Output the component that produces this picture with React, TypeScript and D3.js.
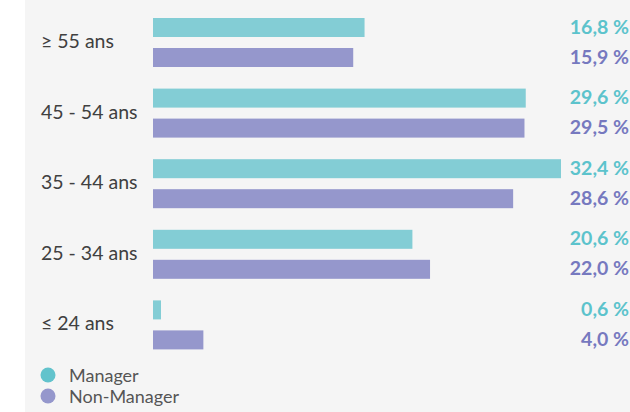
import React from "react";
import * as d3 from "d3";

const categories = ["≥ 55 ans", "45 - 54 ans", "35 - 44 ans", "25 - 34 ans", "≤ 24 ans"];
const managerValues = [16.8, 29.6, 32.4, 20.6, 0.6];
const nonManagerValues = [15.9, 29.5, 28.6, 22.0, 4.0];
const seriesNames = ["Manager", "Non-Manager"];

const W = 630;
const H = 412;
const barColors = ["#83cdd5", "#9597cc"];
const labelColors = ["#5cc3cc", "#7679bf"];
const markerColors = ["#62c3cc", "#9597cc"];
const fontFamily = "Lato, 'Open Sans', sans-serif";

const fmt = (v: number) => d3.format(".1f")(v).replace(".", ",") + " %";

export default function App() {
  const x = d3.scaleLinear().domain([0, 32.4]).range([153, 561]);
  const y = d3.scaleBand().domain(categories).range([13, 366]).paddingInner(0).paddingOuter(0);
  const bh = 19;
  const series = [managerValues, nonManagerValues];

  return (
    <svg
      width={W}
      height={H}
      style={{ position: "absolute", left: 0, top: 0, display: "block" }}
      fontFamily={fontFamily}
    >
      <rect x={0} y={0} width={W} height={H} fill="#ffffff" />
      <rect x={25} y={0} width={W - 25} height={H} fill="#f5f5f5" />
      {categories.map((c, i) => {
        const g0 = (y(c) as number) + 5;
        return (
          <g key={c}>
            <text x={41} y={g0 + 25} dominantBaseline="middle" fontSize={19.5} fill="#404040">
              {c}
            </text>
            {series.map((s, j) => {
              const top = g0 + j * 30;
              const w = Math.max(x(s[i]) - x(0), 8);
              return (
                <g key={j}>
                  <rect x={x(0)} y={top} width={w} height={bh} fill={barColors[j]} />
                  <text
                    x={629}
                    y={top + bh / 2 + 1}
                    textAnchor="end"
                    dominantBaseline="middle"
                    fontSize={19.5}
                    fontWeight={700}
                    fill={labelColors[j]}
                  >
                    {fmt(s[i])}
                  </text>
                </g>
              );
            })}
          </g>
        );
      })}
      {seriesNames.map((n, j) => (
        <g key={n}>
          <circle cx={48} cy={375 + j * 21} r={7.5} fill={markerColors[j]} />
          <text x={69} y={377 + j * 21} dominantBaseline="middle" fontSize={18} fill="#555555">
            {n}
          </text>
        </g>
      ))}
    </svg>
  );
}
